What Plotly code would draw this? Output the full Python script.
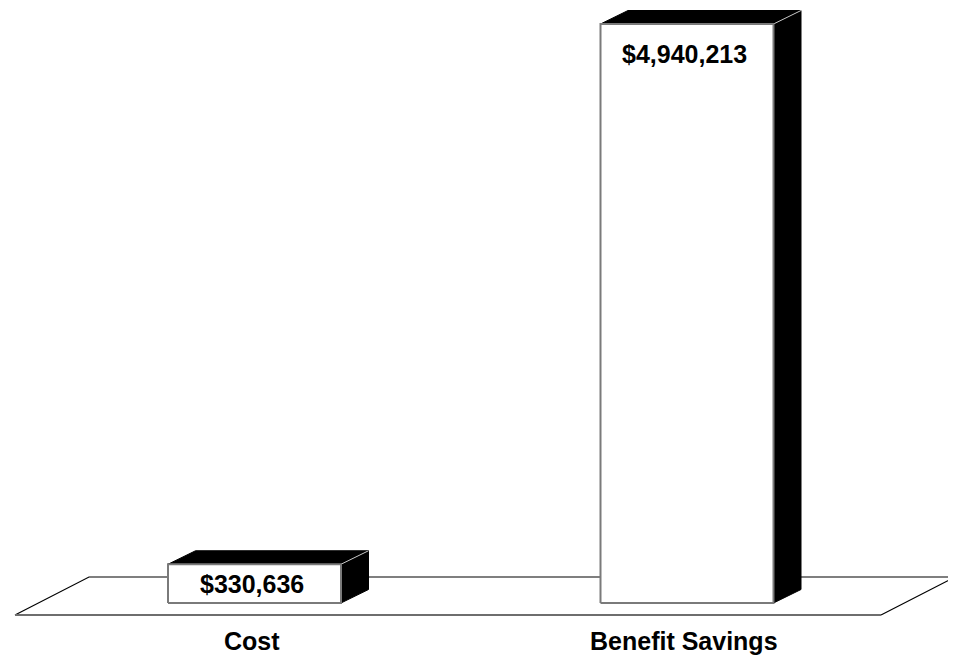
import plotly.graph_objects as go

# ---- data ----
categories = ["Cost", "Benefit Savings"]
values = [330636, 4940213]
value_labels = ["$330,636", "$4,940,213"]

# ---- layout constants (pixels, page coordinates) ----
PAGE_OFF = 8            # default body margin of the html page
W, H = 956 - PAGE_OFF, 656 - PAGE_OFF
PX_PER_CAT = 432.5      # horizontal distance between category centres
FIRST_CAT_PX = 254.5 - PAGE_OFF
ZERO_PX = 603 - PAGE_OFF
TOP_PX = 24 - PAGE_OFF
BAR_W = 0.4             # bar width in category units
DEPTH_PX = (27.5, 13.5) # 3D depth offset (right, up)

vmax = max(values)
py_per_val = (ZERO_PX - TOP_PX) / vmax
x0 = -FIRST_CAT_PX / PX_PER_CAT
x1 = x0 + W / PX_PER_CAT
y_top = ZERO_PX / py_per_val
y_bot = -(H - ZERO_PX) / py_per_val


def dxu(px):
    return px / PX_PER_CAT


def dyu(px):
    return px / py_per_val


FONT = "Arial, 'Liberation Sans', sans-serif"
fig = go.Figure()

# ---- floor ----
n = len(categories)
fl_front_y = dyu(-12)
fl_back_y = dyu(26)
fl_fl = 0 - dxu(239.5)
fl_fr = (n - 1) + dxu(194)
fl_dx = dxu(74)
fig.add_trace(go.Scatter(
    x=[fl_fl, fl_fl + fl_dx, fl_fr + fl_dx, fl_fr],
    y=[fl_front_y, fl_back_y, fl_back_y, fl_front_y],
    mode="lines", line=dict(color="#000000", width=1.2),
    hoverinfo="skip"))
fig.add_trace(go.Scatter(
    x=[fl_fl, fl_fr], y=[fl_front_y, fl_front_y],
    mode="lines", line=dict(color="#6e6e6e", width=2.2),
    hoverinfo="skip"))

# ---- bars ----
ddx, ddy = dxu(DEPTH_PX[0]), dyu(DEPTH_PX[1])
for i, v in enumerate(values):
    xl, xr = i - BAR_W / 2, i + BAR_W / 2
    # top face
    fig.add_trace(go.Scatter(
        x=[xl, xr, xr + ddx, xl + ddx, xl],
        y=[v, v, v + ddy, v + ddy, v],
        mode="lines", fill="toself", fillcolor="#000000",
        line=dict(color="#000000", width=1), hoverinfo="skip"))
    # side face
    fig.add_trace(go.Scatter(
        x=[xr, xr + ddx, xr + ddx, xr, xr],
        y=[0, ddy, v + ddy, v, 0],
        mode="lines", fill="toself", fillcolor="#000000",
        line=dict(color="#000000", width=1), hoverinfo="skip"))
    # highlight edge
    fig.add_trace(go.Scatter(
        x=[xr, xr + ddx], y=[v, v + ddy],
        mode="lines", line=dict(color="#c8c8c8", width=1), hoverinfo="skip"))
    # front face
    fig.add_trace(go.Scatter(
        x=[xl, xr, xr, xl, xl],
        y=[0, 0, v, v, 0],
        mode="lines", fill="toself", fillcolor="#ffffff",
        line=dict(color="#7a7a7a", width=2), hoverinfo="skip"))

annotations = []
for i, (v, lab) in enumerate(zip(values, value_labels)):
    if v * py_per_val > 80:
        ly = v - dyu(30)
    else:
        ly = v / 2
    annotations.append(dict(
        x=i, y=ly, xref="x", yref="y", text="<b>%s</b>" % lab,
        showarrow=False, xanchor="center", yanchor="middle", xshift=-3,
        font=dict(family=FONT, size=25, color="#000000")))
for i, c in enumerate(categories):
    annotations.append(dict(
        x=i, y=dyu(ZERO_PX - (641 - PAGE_OFF)), xref="x", yref="y",
        text="<b>%s</b>" % c, xshift=-3,
        showarrow=False, xanchor="center", yanchor="middle",
        font=dict(family=FONT, size=25, color="#000000")))

fig.update_layout(
    width=W, height=H,
    margin=dict(l=0, r=0, t=0, b=0),
    paper_bgcolor="#ffffff", plot_bgcolor="#ffffff",
    showlegend=False, hovermode=False,
    xaxis=dict(range=[x0, x1], visible=False, fixedrange=True),
    yaxis=dict(range=[y_bot, y_top], visible=False, fixedrange=True),
    annotations=annotations,
)

fig.write_html("out.html", config={"displayModeBar": False})
